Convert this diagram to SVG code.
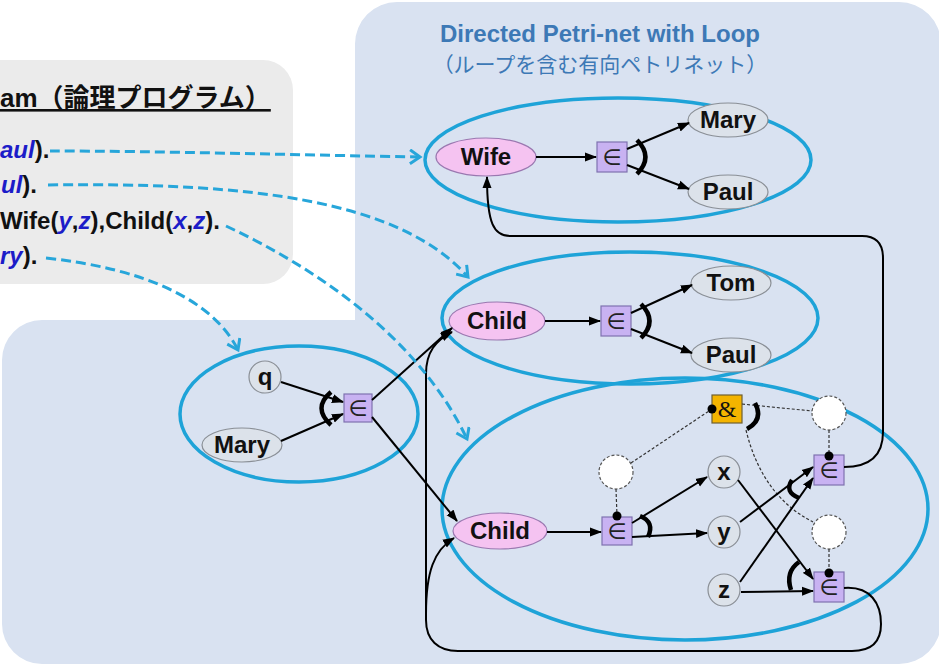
<svg xmlns="http://www.w3.org/2000/svg" width="939" height="666" viewBox="0 0 939 666">
<defs>
<style>
.bg{fill:#d9e2f1}
.grp{fill:none;stroke:#1ea3d8;stroke-width:3.5}
.pink{fill:#f5c3f1;stroke:#9a78b0;stroke-width:1.2}
.grey{fill:#dce2ea;stroke:#8a8f96;stroke-width:1.2}
.tr{fill:#c8b2f2;stroke:#7f72b0;stroke-width:1.2}
.amp{fill:#f4b400;stroke:#6f5f30;stroke-width:1.2}
.place{fill:#ffffff;stroke:#555;stroke-width:1.2;stroke-dasharray:3 2}
.thick{fill:none;stroke:#000;stroke-width:4.5}
.edge{fill:none;stroke:#000;stroke-width:2}
.dash{fill:none;stroke:#333;stroke-width:1.2;stroke-dasharray:3 2}
.link{fill:none;stroke:#27a6da;stroke-width:3;stroke-dasharray:10 5}
.lbl{font-family:"Liberation Sans",Arial,sans-serif;font-weight:bold;font-size:24px;fill:#111;text-anchor:middle}
.sym{font-family:"DejaVu Sans",sans-serif;font-size:22px;fill:#222;text-anchor:middle}
.prog{font-family:"Liberation Sans","Noto Sans CJK JP",sans-serif;font-weight:bold;font-size:24px;fill:#111}
.head{font-family:"Liberation Sans","Noto Sans CJK JP",sans-serif;font-weight:bold;font-size:26px;fill:#111;text-decoration:underline}
.v{fill:#1c1cc8;font-style:italic}
</style>
<marker id="ah" markerUnits="userSpaceOnUse" markerWidth="12" markerHeight="10" refX="11" refY="5" orient="auto">
<path d="M0,0.5 L12,5 L0,9.5 Z" fill="#000"/>
</marker>
<marker id="ch" markerUnits="userSpaceOnUse" markerWidth="16" markerHeight="18" refX="12" refY="8" orient="auto">
<path d="M2,1 L12,8 L2,15" fill="none" stroke="#27a6da" stroke-width="3"/>
</marker>
</defs>

<rect width="939" height="666" fill="#ffffff"/>
<g id="background">
<path class="bg" d="M397,2 H899 A42,42 0 0 1 941,44 V622 A42,42 0 0 1 899,664 H42 A40,40 0 0 1 2,624 V360 A40,40 0 0 1 42,320 H355 V44 A42,42 0 0 1 397,2 Z"/>
<rect x="-40" y="60" width="333" height="224" rx="30" fill="#ebebeb"/>
</g>

<g id="program">
<text class="head" x="0" y="107">am（論理プログラム）</text>
<text class="prog" x="0" y="158"><tspan class="v">aul</tspan>).</text>
<text class="prog" x="1" y="193"><tspan class="v">ul</tspan>).</text>
<text class="prog" x="0" y="229">Wife(<tspan class="v">y</tspan>,<tspan class="v">z</tspan>),Child(<tspan class="v">x</tspan>,<tspan class="v">z</tspan>).</text>
<text class="prog" x="0" y="264"><tspan class="v">ry</tspan>).</text>
</g>

<g id="title">
<text x="600" y="42" text-anchor="middle" font-family="Liberation Sans,Arial,sans-serif" font-weight="bold" font-size="24" fill="#3d79b6">Directed Petri-net with Loop</text>
<text x="600" y="72" text-anchor="middle" font-family="Noto Sans CJK JP,sans-serif" font-size="21" fill="#3d79b6">（ループを含む有向ペトリネット）</text>
</g>

<g id="wife-net">
<ellipse class="grp" cx="618" cy="160" rx="193" ry="62"/>
<ellipse class="pink" cx="486" cy="157" rx="50" ry="19"/>
<text class="lbl" x="486" y="165">Wife</text>
<rect class="tr" x="597" y="142" width="30" height="30"/>
<text class="sym" x="612" y="165">∈</text>
<ellipse class="grey" cx="728" cy="120" rx="40" ry="17"/>
<text class="lbl" x="728" y="128">Mary</text>
<ellipse class="grey" cx="728" cy="192" rx="40" ry="17"/>
<text class="lbl" x="728" y="200">Paul</text>
<path class="thick" d="M637,140 Q654,157 637,174"/>
</g>

<g id="child-net">
<ellipse class="grp" cx="630" cy="318" rx="188" ry="66"/>
<ellipse class="pink" cx="497" cy="321" rx="48" ry="19"/>
<text class="lbl" x="497" y="329">Child</text>
<rect class="tr" x="601" y="306" width="30" height="30"/>
<text class="sym" x="616" y="329">∈</text>
<ellipse class="grey" cx="731" cy="283" rx="40" ry="17"/>
<text class="lbl" x="731" y="291">Tom</text>
<ellipse class="grey" cx="731" cy="355" rx="40" ry="17"/>
<text class="lbl" x="731" y="363">Paul</text>
<path class="thick" d="M641,304 Q658,321 641,338"/>
</g>

<g id="query-net">
<ellipse class="grp" cx="299" cy="414" rx="119" ry="68"/>
<circle class="grey" cx="265" cy="377" r="16"/>
<text class="lbl" x="265" y="385">q</text>
<ellipse class="grey" cx="242" cy="445" rx="40" ry="17"/>
<text class="lbl" x="242" y="453">Mary</text>
<rect class="tr" x="344" y="394" width="28" height="28"/>
<text class="sym" x="358" y="416">∈</text>
<path class="thick" d="M331,392 Q312,408 331,425"/>
</g>

<g id="rule-net">
<ellipse class="grp" cx="685" cy="509" rx="243" ry="131"/>
<ellipse class="pink" cx="500" cy="531" rx="47" ry="18"/>
<text class="lbl" x="500" y="539">Child</text>
<rect class="tr" x="602" y="517" width="30" height="28"/>
<text class="sym" x="617" y="539">∈</text>
<circle class="place" cx="616" cy="472" r="17"/>
<circle class="grey" cx="724" cy="472" r="16"/>
<text class="lbl" x="724" y="480">x</text>
<circle class="grey" cx="724" cy="532" r="16"/>
<text class="lbl" x="724" y="540">y</text>
<circle class="grey" cx="724" cy="590" r="16"/>
<text class="lbl" x="724" y="598">z</text>
<rect class="amp" x="712" y="395" width="30" height="28"/>
<text x="727" y="417" text-anchor="middle" font-family="Liberation Serif,serif" font-size="24" fill="#111">&amp;</text>
<circle class="place" cx="829" cy="413" r="17"/>
<circle class="place" cx="829" cy="532" r="17"/>
<rect class="tr" x="814" y="455" width="30" height="30"/>
<text class="sym" x="829" y="478">∈</text>
<rect class="tr" x="814" y="572" width="30" height="30"/>
<text class="sym" x="829" y="595">∈</text>
<path class="dash" d="M616,489 L617,516"/>
<path class="dash" d="M631,463 L712,409"/>
<path class="dash" d="M742,404 L812,411"/>
<path class="dash" d="M746,430 Q762,496 813,522"/>
<path class="dash" d="M829,430 L829,456"/>
<path class="dash" d="M829,549 L829,573"/>
<circle cx="617" cy="516" r="4.5" fill="#000"/>
<circle cx="712" cy="409" r="4.5" fill="#000"/>
<circle cx="829" cy="456" r="4.5" fill="#000"/>
<circle cx="829" cy="573" r="4.5" fill="#000"/>
<path class="thick" d="M755,403 Q764,420 747,429"/>
<path class="thick" d="M640,516 Q655,522 648,537"/>
<path class="thick" d="M792,480 Q784,492 799,498"/>
<path class="thick" d="M799,562 Q785,572 791,590"/>
</g>

<g id="connectors">
<path class="edge" d="M536,157 L596,157" marker-end="url(#ah)"/>
<path class="edge" d="M627,149 L689,123" marker-end="url(#ah)"/>
<path class="edge" d="M627,165 L689,189" marker-end="url(#ah)"/>
<path class="edge" d="M545,321 L600,321" marker-end="url(#ah)"/>
<path class="edge" d="M631,313 L692,285" marker-end="url(#ah)"/>
<path class="edge" d="M631,329 L692,353" marker-end="url(#ah)"/>
<path class="edge" d="M281,382 L343,402" marker-end="url(#ah)"/>
<path class="edge" d="M281,441 L343,414" marker-end="url(#ah)"/>
<path class="edge" d="M372,400 L452,328" marker-end="url(#ah)"/>
<path class="edge" d="M372,417 L457,521" marker-end="url(#ah)"/>
<path class="edge" d="M547,532 L601,532" marker-end="url(#ah)"/>
<path class="edge" d="M632,523 L707,477" marker-end="url(#ah)"/>
<path class="edge" d="M632,537 L707,533" marker-end="url(#ah)"/>
<path class="edge" d="M740,522 L813,467" marker-end="url(#ah)"/>
<path class="edge" d="M740,582 L813,478" marker-end="url(#ah)"/>
<path class="edge" d="M738,480 L813,579" marker-end="url(#ah)"/>
<path class="edge" d="M741,592 L813,591" marker-end="url(#ah)"/>
<path class="edge" d="M844,467 C871,467 883,455 883,432 L883,258 C883,244 876,236 862,236 L510,236 C494,236 487,224 487,177" marker-end="url(#ah)"/>
<path class="edge" d="M844,588 C871,586 881,604 881,624 C881,642 872,651 852,651 L458,651 C438,651 426,640 426,620 L426,374 C426,352 436,340 452,332" marker-end="url(#ah)"/>
<path class="edge" d="M426,614 C426,572 434,550 454,538" marker-end="url(#ah)"/>
<path class="link" d="M50,151 C160,151 300,155 420,157" marker-end="url(#ch)"/>
<path class="link" d="M48,185 C250,182 400,200 468,277" marker-end="url(#ch)"/>
<path class="link" d="M226,226 C320,270 420,340 467,439" marker-end="url(#ch)"/>
<path class="link" d="M46,258 C140,268 212,298 238,350" marker-end="url(#ch)"/>
</g>
</svg>
